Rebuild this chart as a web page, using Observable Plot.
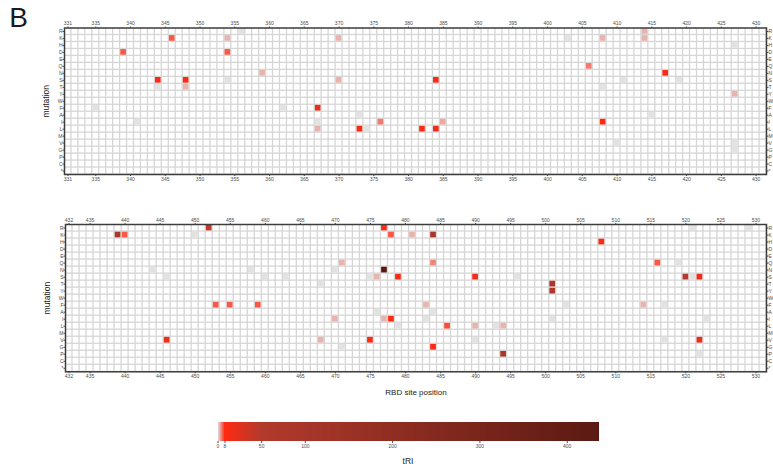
<!DOCTYPE html>
<html><head><meta charset="utf-8">
<script src="https://cdn.jsdelivr.net/npm/d3@7"></script>
<script src="https://cdn.jsdelivr.net/npm/@observablehq/plot@0.6"></script>
<style>
body{margin:0;background:#fff;font-family:"Liberation Sans",Arial,sans-serif;}
#c{position:relative;width:773px;height:466px;overflow:hidden;background:#fff;}
.lbl{position:absolute;color:#1a1a1a;white-space:nowrap;line-height:1;}
</style></head><body><div id="c"></div>
<script>
// ---- data ----
const mutations = ["R","K","H","D","E","Q","N","S","T","Y","W","F","A","I","L","M","V","G","P","C","*"];
const topSites = d3.range(331, 432);
const bottomSites = d3.range(432, 532);
const topTicks = [331,335,340,345,350,355,360,365,370,375,380,385,390,395,400,405,410,415,420,425,430];
const bottomTicks = [432,435,440,445,450,455,460,465,470,475,480,485,490,495,500,505,510,515,520,525,530];
const colorbarTicks = [0,8,50,100,200,300,400];

const topSite = [356,346,354,339,354,344,348,354,344,348,335,341,370,359,370,384,362,367,367,373,376,385,367,373,374,382,384,414,403,408,414,427,406,417,411,419,408,427,415,408,410,427,427];
const topMut  = ["R","K","K","D","D","S","S","S","T","T","F","I","K","N","S","S","F","F","I","A","I","I","L","L","L","L","L","R","K","K","K","H","Q","N","S","S","T","Y","A","I","V","V","G"];
const topTRI  = [0,6,2,6,6,9,9,0,0,2,0,0,2,2,2,9,0,20,0,0,4.5,2.5,2,9,0,10,14,2,0,2,2,0,4.5,9,0,0,0,2,0,9,0,0,0];

const bottomSite = [452,439,440,450,444,458,446,453,455,459,446,
  477,478,481,484,471,484,470,477,460,463,475,476,479,490,468,483,476,484,470,477,478,483,479,486,490,493,494,468,475,490,471,484,494,
  521,529,508,516,519,496,520,521,522,501,501,503,514,517,501,523,517,522,522];
const bottomMut = ["R","K","K","K","N","N","S","F","F","F","V",
  "R","K","K","K","Q","Q","N","N","S","S","S","S","S","S","T","F","A","A","I","I","I","I","L","L","L","L","L","V","V","V","G","G","P",
  "R","R","H","Q","Q","S","S","S","S","T","Y","F","F","F","I","I","V","V","P"];
const bottomTRI = [38,85,6,0,0,0,0,6,6,6,18,
  10,6,2,85,2,4,0,437,0,0,0,2,12,16,0,2,0,0,2,2,10,0,0,6.5,2,0,2,2,12,0,0,9,85,
  0,0,9,6,0,0,55,0,18,80,80,0,2,0,0,0,0,18,0];

// ---- scales / styles ----
const colorScale = {type: "linear", domain: [0, 8, 50, 437], range: ["#e2e2e2", "#ff2a12", "#b23a2c", "#5a1a13"], interpolate: "rgb"};
const font = "'Liberation Sans', Arial, sans-serif";

const c = document.getElementById("c");
function place(el, left, top) {
  el.style.position = "absolute";
  el.style.left = left + "px";
  el.style.top = top + "px";
  c.appendChild(el);
}
function label(text, cx, cy, size) {
  const d = document.createElement("div");
  d.className = "lbl";
  d.textContent = text;
  d.style.fontSize = size + "px";
  d.style.left = cx + "px";
  d.style.top = cy + "px";
  d.style.transform = "translate(-50%,-50%)";
  c.appendChild(d);
}

function panel(sites, ticks, site, mut, val, mt, mb, ml) {
  const data = site.map((s, i) => ({site: s, mutation: mut[i], tRI: val[i]}));
  const grid = d3.cross(sites, mutations).map(([s, m]) => ({site: s, mutation: m}));
  return Plot.plot({
    width: 773, height: 200,
    marginTop: mt, marginBottom: mb, marginLeft: ml, marginRight: 7,
    style: {fontSize: "5px", fontFamily: font, color: "#4d4d4d", background: "transparent", overflow: "visible"},
    x: {type: "band", domain: sites, padding: 0, round: false, axis: "both", ticks, tickSize: 2, tickPadding: 1, label: null},
    y: {type: "band", domain: mutations, padding: 0, round: false, axis: "both", tickSize: 1.5, tickPadding: 0.5, label: null},
    color: colorScale,
    marks: [
      Plot.frame({fill: "#d6d6d6"}),
      Plot.cell(grid, {x: "site", y: "mutation", fill: "white", inset: 0.65}),
      Plot.cell(data, {x: "site", y: "mutation", fill: "tRI", inset: 0.65}),
      Plot.frame({stroke: "#3d3d3d", strokeWidth: 1.5}),
      Plot.text(["mutation"], {frameAnchor: "left", dx: -18, rotate: -90, textAnchor: "middle", fontSize: 8.5, fill: "#1a1a1a", fontFamily: font})
    ]
  });
}

place(panel(topSites, topTicks, topSite, topMut, topTRI, 27.5, 26, 64), 0, 0);
place(panel(bottomSites, bottomTicks, bottomSite, bottomMut, bottomTRI, 24, 28.7, 65), 0, 200);

// colour bar
const steps = d3.range(0, 437, 0.5);
const bar = Plot.plot({
  width: 773, height: 51,
  marginTop: 7, marginBottom: 25, marginLeft: 217.5, marginRight: 174,
  style: {fontSize: "5px", fontFamily: font, color: "#4d4d4d", background: "transparent", overflow: "visible"},
  x: {type: "linear", domain: [0, 437], ticks: colorbarTicks, tickSize: 2, tickPadding: 1, label: null},
  y: {axis: null},
  color: colorScale,
  marks: [
    Plot.rect(steps, {x1: d => d, x2: d => Math.min(437, d + 1.2), fill: d => d, shapeRendering: "crispEdges"})
  ]
});
place(bar, 0, 415);

label("B", 18.5, 18, 28);
label("RBD site position", 416, 393, 8);
label("tRI", 408, 461, 8.5);
</script></body></html>
